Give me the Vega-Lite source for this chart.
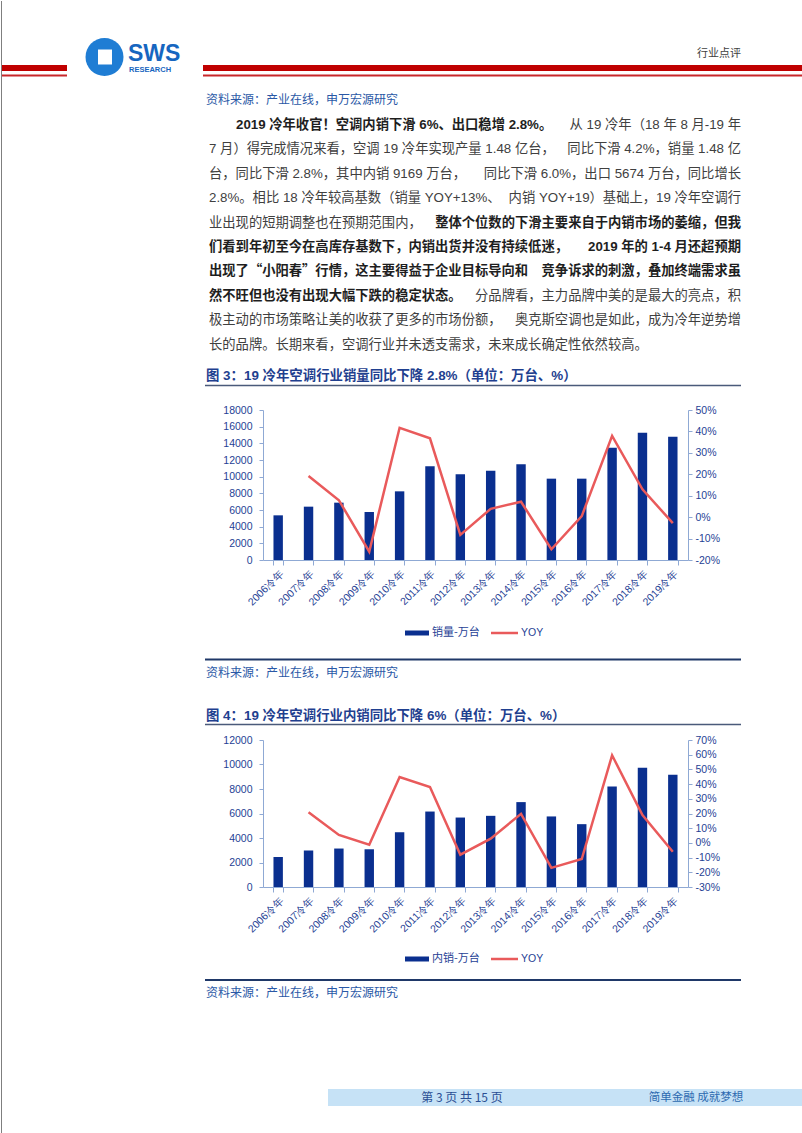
{
"$schema":"https://vega.github.io/schema/vega-lite/v6.json",
"padding":0,
"background":"#ffffff",
"spacing":0,
"bounds":"flush",
"config":{"view":{"stroke":null},"font":"Noto Sans CJK SC"},
"datasets":{
"sales":[
{"year":"2006冷年","volume":5360,"yoy":null},
{"year":"2007冷年","volume":6400,"yoy":0.192},
{"year":"2008冷年","volume":6880,"yoy":0.079},
{"year":"2009冷年","volume":5760,"yoy":-0.161},
{"year":"2010冷年","volume":8240,"yoy":0.417},
{"year":"2011冷年","volume":11240,"yoy":0.368},
{"year":"2012冷年","volume":10280,"yoy":-0.083},
{"year":"2013冷年","volume":10720,"yoy":0.039},
{"year":"2014冷年","volume":11480,"yoy":0.072},
{"year":"2015冷年","volume":9760,"yoy":-0.15},
{"year":"2016冷年","volume":9760,"yoy":0.005},
{"year":"2017冷年","volume":13480,"yoy":0.379},
{"year":"2018冷年","volume":15270,"yoy":0.13},
{"year":"2019冷年","volume":14800,"yoy":-0.028}
],
"domestic":[
{"year":"2006冷年","volume":2450,"yoy":null},
{"year":"2007冷年","volume":2980,"yoy":0.209},
{"year":"2008冷年","volume":3140,"yoy":0.054},
{"year":"2009冷年","volume":3080,"yoy":-0.012},
{"year":"2010冷年","volume":4470,"yoy":0.448},
{"year":"2011冷年","volume":6160,"yoy":0.38},
{"year":"2012冷年","volume":5670,"yoy":-0.08},
{"year":"2013冷年","volume":5810,"yoy":0.029},
{"year":"2014冷年","volume":6930,"yoy":0.198},
{"year":"2015冷年","volume":5760,"yoy":-0.17},
{"year":"2016冷年","volume":5130,"yoy":-0.11},
{"year":"2017冷年","volume":8210,"yoy":0.596},
{"year":"2018冷年","volume":9740,"yoy":0.19},
{"year":"2019冷年","volume":9169,"yoy":-0.06}
],
"para":[
{"line":0,"seg":1,"role":"source","emph":false,"text":"资料来源：产业在线，申万宏源研究"},
{"line":1,"seg":1,"role":"lead","emph":true,"text":"2019 冷年收官！空调内销下滑 6%、出口稳增 2.8%。"},
{"line":1,"seg":2,"role":"body","emph":false,"text":"从 19 冷年（18 年 8 月-19 年"},
{"line":2,"seg":1,"role":"body","emph":false,"text":"7 月）得完成情况来看，空调 19 冷年实现产量 1.48 亿台，"},
{"line":2,"seg":2,"role":"body","emph":false,"text":"同比下滑 4.2%，销量 1.48 亿"},
{"line":3,"seg":1,"role":"body","emph":false,"text":"台，同比下滑 2.8%，其中内销 9169 万台，"},
{"line":3,"seg":2,"role":"body","emph":false,"text":"同比下滑 6.0%，出口 5674 万台，同比增长"},
{"line":4,"seg":1,"role":"body","emph":false,"text":"2.8%。相比 18 冷年较高基数（销量 YOY+13%、"},
{"line":4,"seg":2,"role":"body","emph":false,"text":"内销 YOY+19）基础上，19 冷年空调行"},
{"line":5,"seg":1,"role":"body","emph":false,"text":"业出现的短期调整也在预期范围内，"},
{"line":5,"seg":2,"role":"body","emph":true,"text":"整体个位数的下滑主要来自于内销市场的萎缩，但我"},
{"line":6,"seg":1,"role":"body","emph":true,"text":"们看到年初至今在高库存基数下，内销出货并没有持续低迷，"},
{"line":6,"seg":2,"role":"body","emph":true,"text":"2019 年的 1-4 月还超预期"},
{"line":7,"seg":1,"role":"body","emph":true,"text":"出现了“小阳春”行情，这主要得益于企业目标导向和"},
{"line":7,"seg":2,"role":"body","emph":true,"text":"竞争诉求的刺激，叠加终端需求虽"},
{"line":8,"seg":1,"role":"body","emph":true,"text":"然不旺但也没有出现大幅下跌的稳定状态。"},
{"line":8,"seg":2,"role":"body","emph":false,"text":"分品牌看，主力品牌中美的是最大的亮点，积"},
{"line":9,"seg":1,"role":"body","emph":false,"text":"极主动的市场策略让美的收获了更多的市场份额，"},
{"line":9,"seg":2,"role":"body","emph":false,"text":"奥克斯空调也是如此，成为冷年逆势增"},
{"line":10,"seg":1,"role":"body","emph":false,"text":"长的品牌。长期来看，空调行业并未透支需求，未来成长确定性依然较高。"}
]
},
"vconcat":[
{
"width":802,"height":87,"data":{"values":[{}]},
"layer":[
{"mark":{"type":"rect","color":"#C00000"},"encoding":{"x":{"datum":0,"type":"quantitative","scale":{"domain":[0,802],"nice":false,"zero":false},"axis":null},"x2":{"datum":66},"y":{"datum":64,"type":"quantitative","scale":{"domain":[0,87],"reverse":true,"nice":false,"zero":false},"axis":null},"y2":{"datum":70}}},
{"mark":{"type":"rect","color":"#C00000"},"encoding":{"x":{"datum":202,"type":"quantitative","scale":{"domain":[0,802],"nice":false,"zero":false},"axis":null},"x2":{"datum":802},"y":{"datum":64,"type":"quantitative","scale":{"domain":[0,87],"reverse":true,"nice":false,"zero":false},"axis":null},"y2":{"datum":70}}},
{"mark":{"type":"rect","color":"#C8282B"},"encoding":{"x":{"datum":0,"type":"quantitative","scale":{"domain":[0,802],"nice":false,"zero":false},"axis":null},"x2":{"datum":66},"y":{"datum":73.5,"type":"quantitative","scale":{"domain":[0,87],"reverse":true,"nice":false,"zero":false},"axis":null},"y2":{"datum":75.5}}},
{"mark":{"type":"rect","color":"#C8282B"},"encoding":{"x":{"datum":202,"type":"quantitative","scale":{"domain":[0,802],"nice":false,"zero":false},"axis":null},"x2":{"datum":802},"y":{"datum":73.5,"type":"quantitative","scale":{"domain":[0,87],"reverse":true,"nice":false,"zero":false},"axis":null},"y2":{"datum":75.5}}},
{"mark":{"type":"point","shape":"circle","filled":true,"size":1444,"color":"#1F7DD4","opacity":1},"encoding":{"x":{"datum":103.5,"type":"quantitative","scale":{"domain":[0,802],"nice":false,"zero":false},"axis":null},"y":{"datum":56,"type":"quantitative","scale":{"domain":[0,87],"reverse":true,"nice":false,"zero":false},"axis":null}}},
{"mark":{"type":"rect","color":"#ffffff"},"encoding":{"x":{"datum":97,"type":"quantitative","scale":{"domain":[0,802],"nice":false,"zero":false},"axis":null},"x2":{"datum":111},"y":{"datum":48.5,"type":"quantitative","scale":{"domain":[0,87],"reverse":true,"nice":false,"zero":false},"axis":null},"y2":{"datum":63.5}}},
{"mark":{"type":"text","text":"SWS","align":"left","baseline":"middle","font":"Liberation Sans","fontWeight":"bold","fontSize":23,"color":"#1666C0"},"encoding":{"x":{"datum":127,"type":"quantitative","scale":{"domain":[0,802],"nice":false,"zero":false},"axis":null},"y":{"datum":52.5,"type":"quantitative","scale":{"domain":[0,87],"reverse":true,"nice":false,"zero":false},"axis":null}}},
{"mark":{"type":"text","text":"RESEARCH","align":"left","baseline":"middle","font":"Liberation Sans","fontWeight":"bold","fontSize":7.5,"color":"#1666C0"},"encoding":{"x":{"datum":128,"type":"quantitative","scale":{"domain":[0,802],"nice":false,"zero":false},"axis":null},"y":{"datum":69,"type":"quantitative","scale":{"domain":[0,87],"reverse":true,"nice":false,"zero":false},"axis":null}}},
{"mark":{"type":"text","text":"行业点评","align":"right","baseline":"middle","fontSize":11,"color":"#404040"},"encoding":{"x":{"datum":740,"type":"quantitative","scale":{"domain":[0,802],"nice":false,"zero":false},"axis":null},"y":{"datum":53,"type":"quantitative","scale":{"domain":[0,87],"reverse":true,"nice":false,"zero":false},"axis":null}}},
{"mark":{"type":"rule","color":"#7F7F7F","strokeWidth":1},"encoding":{"x":{"datum":0.5,"type":"quantitative","scale":{"domain":[0,802],"nice":false,"zero":false},"axis":null},"y":{"datum":0,"type":"quantitative","scale":{"domain":[0,87],"reverse":true,"nice":false,"zero":false},"axis":null},"y2":{"datum":87}}},
{"mark":{"type":"rule","color":"#7F7F7F","strokeWidth":1},"encoding":{"x":{"datum":801.5,"type":"quantitative","scale":{"domain":[0,802],"nice":false,"zero":false},"axis":null},"y":{"datum":0,"type":"quantitative","scale":{"domain":[0,87],"reverse":true,"nice":false,"zero":false},"axis":null},"y2":{"datum":87}}}
]
},
{
"width":802,"height":269,"data":{"name":"para"},
"layer":[
{"transform":[{"filter":"datum.role === 'source'"}],"mark":{"type":"text","align":"left","baseline":"middle","fontSize":12,"color":"#2A58A6"},"encoding":{"x":{"datum":205,"type":"quantitative","scale":{"domain":[0,802],"nice":false,"zero":false},"axis":null},"y":{"field":"line","type":"quantitative","scale":{"domain":[-0.5,10.5],"reverse":true,"nice":false,"zero":false},"axis":null},"text":{"field":"text"}}},
{"transform":[{"filter":"datum.role === 'lead'"}],"mark":{"type":"text","align":"left","baseline":"middle","font":"Liberation Sans, Noto Sans CJK SC","fontSize":13.3,"fontWeight":"bold","color":"#1E1E1E"},"encoding":{"x":{"datum":235,"type":"quantitative","scale":{"domain":[0,802],"nice":false,"zero":false},"axis":null},"y":{"field":"line","type":"quantitative","scale":{"domain":[-0.5,10.5],"reverse":true,"nice":false,"zero":false},"axis":null},"text":{"field":"text"}}},
{"transform":[{"filter":"datum.role === 'body' && datum.seg === 1 && !datum.emph"}],"mark":{"type":"text","align":"left","baseline":"middle","font":"Liberation Sans, Noto Sans CJK SC","fontSize":13.3,"color":"#404040"},"encoding":{"x":{"datum":208,"type":"quantitative","scale":{"domain":[0,802],"nice":false,"zero":false},"axis":null},"y":{"field":"line","type":"quantitative","scale":{"domain":[-0.5,10.5],"reverse":true,"nice":false,"zero":false},"axis":null},"text":{"field":"text"}}},
{"transform":[{"filter":"datum.role === 'body' && datum.seg === 1 && datum.emph"}],"mark":{"type":"text","align":"left","baseline":"middle","font":"Noto Sans CJK SC","fontSize":13.3,"fontWeight":"bold","color":"#1E1E1E"},"encoding":{"x":{"datum":208,"type":"quantitative","scale":{"domain":[0,802],"nice":false,"zero":false},"axis":null},"y":{"field":"line","type":"quantitative","scale":{"domain":[-0.5,10.5],"reverse":true,"nice":false,"zero":false},"axis":null},"text":{"field":"text"}}},
{"transform":[{"filter":"datum.role === 'body' && datum.seg === 2 && !datum.emph"}],"mark":{"type":"text","align":"right","baseline":"middle","font":"Liberation Sans, Noto Sans CJK SC","fontSize":13.3,"color":"#404040"},"encoding":{"x":{"datum":740,"type":"quantitative","scale":{"domain":[0,802],"nice":false,"zero":false},"axis":null},"y":{"field":"line","type":"quantitative","scale":{"domain":[-0.5,10.5],"reverse":true,"nice":false,"zero":false},"axis":null},"text":{"field":"text"}}},
{"transform":[{"filter":"datum.role === 'body' && datum.seg === 2 && datum.emph"}],"mark":{"type":"text","align":"right","baseline":"middle","font":"Liberation Sans, Noto Sans CJK SC","fontSize":13.3,"fontWeight":"bold","color":"#1E1E1E"},"encoding":{"x":{"datum":740,"type":"quantitative","scale":{"domain":[0,802],"nice":false,"zero":false},"axis":null},"y":{"field":"line","type":"quantitative","scale":{"domain":[-0.5,10.5],"reverse":true,"nice":false,"zero":false},"axis":null},"text":{"field":"text"}}},
{"data":{"values":[{}]},"mark":{"type":"rule","color":"#7F7F7F","strokeWidth":1},"encoding":{"x":{"datum":0.5,"type":"quantitative","scale":{"domain":[0,802],"nice":false,"zero":false},"axis":null},"y":{"datum":-0.5,"type":"quantitative","scale":{"domain":[-0.5,10.5],"reverse":true,"nice":false,"zero":false},"axis":null},"y2":{"datum":10.5}}},
{"data":{"values":[{}]},"mark":{"type":"rule","color":"#7F7F7F","strokeWidth":1},"encoding":{"x":{"datum":801.5,"type":"quantitative","scale":{"domain":[0,802],"nice":false,"zero":false},"axis":null},"y":{"datum":-0.5,"type":"quantitative","scale":{"domain":[-0.5,10.5],"reverse":true,"nice":false,"zero":false},"axis":null},"y2":{"datum":10.5}}}
]
},
{
"width":802,"height":53,"data":{"values":[{}]},
"layer":[
{"mark":{"type":"text","text":"图 3：19 冷年空调行业销量同比下降 2.8%（单位：万台、%）","align":"left","baseline":"middle","font":"Liberation Sans, Noto Sans CJK SC","fontSize":13.4,"fontWeight":"bold","color":"#1F3F8F"},"encoding":{"x":{"datum":205,"type":"quantitative","scale":{"domain":[0,802],"nice":false,"zero":false},"axis":null},"y":{"datum":375,"type":"quantitative","scale":{"domain":[356,409],"reverse":true,"nice":false,"zero":false},"axis":null}}},
{"mark":{"type":"rule","color":"#4A5A7A","strokeWidth":1.5},"encoding":{"x":{"datum":204,"type":"quantitative","scale":{"domain":[0,802],"nice":false,"zero":false},"axis":null},"x2":{"datum":740},"y":{"datum":384.5,"type":"quantitative","scale":{"domain":[356,409],"reverse":true,"nice":false,"zero":false},"axis":null}}},
{"mark":{"type":"rule","color":"#7F7F7F","strokeWidth":1},"encoding":{"x":{"datum":0.5,"type":"quantitative","scale":{"domain":[0,802],"nice":false,"zero":false},"axis":null},"y":{"datum":356,"type":"quantitative","scale":{"domain":[356,409],"reverse":true,"nice":false,"zero":false},"axis":null},"y2":{"datum":409}}},
{"mark":{"type":"rule","color":"#7F7F7F","strokeWidth":1},"encoding":{"x":{"datum":801.5,"type":"quantitative","scale":{"domain":[0,802],"nice":false,"zero":false},"axis":null},"y":{"datum":356,"type":"quantitative","scale":{"domain":[356,409],"reverse":true,"nice":false,"zero":false},"axis":null},"y2":{"datum":409}}}
]
},
{
"width":802,"height":150,
"layer":[
{"data":{"name":"sales"},
"encoding":{"x":{"field":"year","type":"nominal","sort":null,"scale":{"range":[262,687],"paddingInner":0.69,"paddingOuter":0.345},"axis":{"title":null,"labelAngle":-45,"labelColor":"#1F3F95","labelFont":"Liberation Sans","labelFontSize":10.5,"domainColor":"#8FA9D4","tickColor":"#8FA9D4","tickSize":5,"tickBand":"extent","labelPadding":3,"grid":false}}},
"layer":[
{"mark":{"type":"bar","color":"#0A2F8F"},"encoding":{"y":{"field":"volume","type":"quantitative","scale":{"domain":[0,18000],"nice":false},"axis":{"orient":"left","offset":-262,"title":null,"values":[0,2000,4000,6000,8000,10000,12000,14000,16000,18000],"format":"d","grid":false,"domainColor":"#8FA9D4","tickColor":"#8FA9D4","tickSize":4,"labelColor":"#1F3F95","labelFont":"Liberation Sans","labelFontSize":10.5,"labelPadding":7,"labelFlush":false,"labelOverlap":false,"labelBound":false}}}},
{"mark":{"type":"line","color":"#E95A5B","strokeWidth":2.5},"encoding":{"y":{"field":"yoy","type":"quantitative","scale":{"domain":[-0.2,0.5],"nice":false,"zero":false},"axis":{"orient":"right","offset":-115,"title":null,"values":[-0.2,-0.1,0,0.1,0.2,0.3,0.4,0.5],"labelExpr":"round(datum.value*100) + '%'","grid":false,"domainColor":"#8FA9D4","tickColor":"#8FA9D4","tickSize":4,"labelColor":"#1F3F95","labelFont":"Liberation Sans","labelFontSize":10.5,"labelPadding":3,"labelFlush":false,"labelOverlap":false,"labelBound":false}}}}
],
"resolve":{"scale":{"y":"independent"}}
},
{"data":{"values":[{}]},"mark":{"type":"rule","color":"#7F7F7F","strokeWidth":1},"encoding":{"x":{"datum":0.5,"type":"quantitative","scale":{"domain":[0,802],"nice":false,"zero":false},"axis":null},"y":{"datum":0,"type":"quantitative","scale":{"domain":[0,150],"nice":false,"zero":false},"axis":null},"y2":{"datum":150}}},
{"data":{"values":[{}]},"mark":{"type":"rule","color":"#7F7F7F","strokeWidth":1},"encoding":{"x":{"datum":801.5,"type":"quantitative","scale":{"domain":[0,802],"nice":false,"zero":false},"axis":null},"y":{"datum":0,"type":"quantitative","scale":{"domain":[0,150],"nice":false,"zero":false},"axis":null},"y2":{"datum":150}}}
],
"resolve":{"scale":{"x":"independent","y":"independent"}}
},
{
"width":802,"height":180,"data":{"values":[{}]},
"layer":[
{"mark":{"type":"rect","color":"#0A2F8F"},"encoding":{"x":{"datum":404,"type":"quantitative","scale":{"domain":[0,802],"nice":false,"zero":false},"axis":null},"x2":{"datum":428},"y":{"datum":629.5,"type":"quantitative","scale":{"domain":[559,739],"reverse":true,"nice":false,"zero":false},"axis":null},"y2":{"datum":634.5}}},
{"mark":{"type":"text","text":"销量-万台","align":"left","baseline":"middle","fontSize":11,"color":"#1F3F95"},"encoding":{"x":{"datum":431,"type":"quantitative","scale":{"domain":[0,802],"nice":false,"zero":false},"axis":null},"y":{"datum":632,"type":"quantitative","scale":{"domain":[559,739],"reverse":true,"nice":false,"zero":false},"axis":null}}},
{"mark":{"type":"rule","color":"#E95A5B","strokeWidth":2.5},"encoding":{"x":{"datum":490,"type":"quantitative","scale":{"domain":[0,802],"nice":false,"zero":false},"axis":null},"x2":{"datum":517},"y":{"datum":632,"type":"quantitative","scale":{"domain":[559,739],"reverse":true,"nice":false,"zero":false},"axis":null}}},
{"mark":{"type":"text","text":"YOY","align":"left","baseline":"middle","font":"Liberation Sans","fontSize":10.5,"color":"#1F3F95"},"encoding":{"x":{"datum":520,"type":"quantitative","scale":{"domain":[0,802],"nice":false,"zero":false},"axis":null},"y":{"datum":632,"type":"quantitative","scale":{"domain":[559,739],"reverse":true,"nice":false,"zero":false},"axis":null}}},
{"mark":{"type":"rule","color":"#1F3868","strokeWidth":2},"encoding":{"x":{"datum":204,"type":"quantitative","scale":{"domain":[0,802],"nice":false,"zero":false},"axis":null},"x2":{"datum":740},"y":{"datum":658.5,"type":"quantitative","scale":{"domain":[559,739],"reverse":true,"nice":false,"zero":false},"axis":null}}},
{"mark":{"type":"text","text":"资料来源：产业在线，申万宏源研究","align":"left","baseline":"middle","fontSize":12,"color":"#2A58A6"},"encoding":{"x":{"datum":205,"type":"quantitative","scale":{"domain":[0,802],"nice":false,"zero":false},"axis":null},"y":{"datum":671.5,"type":"quantitative","scale":{"domain":[559,739],"reverse":true,"nice":false,"zero":false},"axis":null}}},
{"mark":{"type":"text","text":"图 4：19 冷年空调行业内销同比下降 6%（单位：万台、%）","align":"left","baseline":"middle","font":"Liberation Sans, Noto Sans CJK SC","fontSize":13.4,"fontWeight":"bold","color":"#1F3F8F"},"encoding":{"x":{"datum":205,"type":"quantitative","scale":{"domain":[0,802],"nice":false,"zero":false},"axis":null},"y":{"datum":715,"type":"quantitative","scale":{"domain":[559,739],"reverse":true,"nice":false,"zero":false},"axis":null}}},
{"mark":{"type":"rule","color":"#4A5A7A","strokeWidth":1.5},"encoding":{"x":{"datum":204,"type":"quantitative","scale":{"domain":[0,802],"nice":false,"zero":false},"axis":null},"x2":{"datum":740},"y":{"datum":723.5,"type":"quantitative","scale":{"domain":[559,739],"reverse":true,"nice":false,"zero":false},"axis":null}}},
{"mark":{"type":"rule","color":"#7F7F7F","strokeWidth":1},"encoding":{"x":{"datum":0.5,"type":"quantitative","scale":{"domain":[0,802],"nice":false,"zero":false},"axis":null},"y":{"datum":559,"type":"quantitative","scale":{"domain":[559,739],"reverse":true,"nice":false,"zero":false},"axis":null},"y2":{"datum":739}}},
{"mark":{"type":"rule","color":"#7F7F7F","strokeWidth":1},"encoding":{"x":{"datum":801.5,"type":"quantitative","scale":{"domain":[0,802],"nice":false,"zero":false},"axis":null},"y":{"datum":559,"type":"quantitative","scale":{"domain":[559,739],"reverse":true,"nice":false,"zero":false},"axis":null},"y2":{"datum":739}}}
]
},
{
"width":802,"height":147,
"layer":[
{"data":{"name":"domestic"},
"encoding":{"x":{"field":"year","type":"nominal","sort":null,"scale":{"range":[262,687],"paddingInner":0.69,"paddingOuter":0.345},"axis":{"title":null,"labelAngle":-45,"labelColor":"#1F3F95","labelFont":"Liberation Sans","labelFontSize":10.5,"domainColor":"#8FA9D4","tickColor":"#8FA9D4","tickSize":5,"tickBand":"extent","labelPadding":3,"grid":false}}},
"layer":[
{"mark":{"type":"bar","color":"#0A2F8F"},"encoding":{"y":{"field":"volume","type":"quantitative","scale":{"domain":[0,12000],"nice":false},"axis":{"orient":"left","offset":-262,"title":null,"values":[0,2000,4000,6000,8000,10000,12000],"format":"d","grid":false,"domainColor":"#8FA9D4","tickColor":"#8FA9D4","tickSize":4,"labelColor":"#1F3F95","labelFont":"Liberation Sans","labelFontSize":10.5,"labelPadding":7,"labelFlush":false,"labelOverlap":false,"labelBound":false}}}},
{"mark":{"type":"line","color":"#E95A5B","strokeWidth":2.5},"encoding":{"y":{"field":"yoy","type":"quantitative","scale":{"domain":[-0.3,0.7],"nice":false,"zero":false},"axis":{"orient":"right","offset":-115,"title":null,"values":[-0.3,-0.2,-0.1,0,0.1,0.2,0.3,0.4,0.5,0.6,0.7],"labelExpr":"round(datum.value*100) + '%'","grid":false,"domainColor":"#8FA9D4","tickColor":"#8FA9D4","tickSize":4,"labelColor":"#1F3F95","labelFont":"Liberation Sans","labelFontSize":10.5,"labelPadding":3,"labelFlush":false,"labelOverlap":false,"labelBound":false}}}}
],
"resolve":{"scale":{"y":"independent"}}
},
{"data":{"values":[{}]},"mark":{"type":"rule","color":"#7F7F7F","strokeWidth":1},"encoding":{"x":{"datum":0.5,"type":"quantitative","scale":{"domain":[0,802],"nice":false,"zero":false},"axis":null},"y":{"datum":0,"type":"quantitative","scale":{"domain":[0,147],"nice":false,"zero":false},"axis":null},"y2":{"datum":147}}},
{"data":{"values":[{}]},"mark":{"type":"rule","color":"#7F7F7F","strokeWidth":1},"encoding":{"x":{"datum":801.5,"type":"quantitative","scale":{"domain":[0,802],"nice":false,"zero":false},"axis":null},"y":{"datum":0,"type":"quantitative","scale":{"domain":[0,147],"nice":false,"zero":false},"axis":null},"y2":{"datum":147}}}
],
"resolve":{"scale":{"x":"independent","y":"independent"}}
},
{
"width":802,"height":247,"data":{"values":[{}]},
"layer":[
{"mark":{"type":"rect","color":"#0A2F8F"},"encoding":{"x":{"datum":404,"type":"quantitative","scale":{"domain":[0,802],"nice":false,"zero":false},"axis":null},"x2":{"datum":428},"y":{"datum":955.5,"type":"quantitative","scale":{"domain":[886,1133],"reverse":true,"nice":false,"zero":false},"axis":null},"y2":{"datum":960.5}}},
{"mark":{"type":"text","text":"内销-万台","align":"left","baseline":"middle","fontSize":11,"color":"#1F3F95"},"encoding":{"x":{"datum":431,"type":"quantitative","scale":{"domain":[0,802],"nice":false,"zero":false},"axis":null},"y":{"datum":958,"type":"quantitative","scale":{"domain":[886,1133],"reverse":true,"nice":false,"zero":false},"axis":null}}},
{"mark":{"type":"rule","color":"#E95A5B","strokeWidth":2.5},"encoding":{"x":{"datum":490,"type":"quantitative","scale":{"domain":[0,802],"nice":false,"zero":false},"axis":null},"x2":{"datum":517},"y":{"datum":958,"type":"quantitative","scale":{"domain":[886,1133],"reverse":true,"nice":false,"zero":false},"axis":null}}},
{"mark":{"type":"text","text":"YOY","align":"left","baseline":"middle","font":"Liberation Sans","fontSize":10.5,"color":"#1F3F95"},"encoding":{"x":{"datum":520,"type":"quantitative","scale":{"domain":[0,802],"nice":false,"zero":false},"axis":null},"y":{"datum":958,"type":"quantitative","scale":{"domain":[886,1133],"reverse":true,"nice":false,"zero":false},"axis":null}}},
{"mark":{"type":"rule","color":"#1F3868","strokeWidth":2},"encoding":{"x":{"datum":204,"type":"quantitative","scale":{"domain":[0,802],"nice":false,"zero":false},"axis":null},"x2":{"datum":740},"y":{"datum":979,"type":"quantitative","scale":{"domain":[886,1133],"reverse":true,"nice":false,"zero":false},"axis":null}}},
{"mark":{"type":"text","text":"资料来源：产业在线，申万宏源研究","align":"left","baseline":"middle","fontSize":12,"color":"#2A58A6"},"encoding":{"x":{"datum":205,"type":"quantitative","scale":{"domain":[0,802],"nice":false,"zero":false},"axis":null},"y":{"datum":991.5,"type":"quantitative","scale":{"domain":[886,1133],"reverse":true,"nice":false,"zero":false},"axis":null}}},
{"mark":{"type":"rect","color":"#C6E2F6"},"encoding":{"x":{"datum":327,"type":"quantitative","scale":{"domain":[0,802],"nice":false,"zero":false},"axis":null},"x2":{"datum":802},"y":{"datum":1088,"type":"quantitative","scale":{"domain":[886,1133],"reverse":true,"nice":false,"zero":false},"axis":null},"y2":{"datum":1105}}},
{"mark":{"type":"text","text":"第 3 页 共 15 页","align":"center","baseline":"middle","fontSize":12,"color":"#2B4F94"},"encoding":{"x":{"datum":461,"type":"quantitative","scale":{"domain":[0,802],"nice":false,"zero":false},"axis":null},"y":{"datum":1096.5,"type":"quantitative","scale":{"domain":[886,1133],"reverse":true,"nice":false,"zero":false},"axis":null}}},
{"mark":{"type":"text","text":"简单金融 成就梦想","align":"center","baseline":"middle","fontSize":11.5,"color":"#2D6AB0"},"encoding":{"x":{"datum":695,"type":"quantitative","scale":{"domain":[0,802],"nice":false,"zero":false},"axis":null},"y":{"datum":1096.5,"type":"quantitative","scale":{"domain":[886,1133],"reverse":true,"nice":false,"zero":false},"axis":null}}},
{"mark":{"type":"rule","color":"#7F7F7F","strokeWidth":1},"encoding":{"x":{"datum":0.5,"type":"quantitative","scale":{"domain":[0,802],"nice":false,"zero":false},"axis":null},"y":{"datum":886,"type":"quantitative","scale":{"domain":[886,1133],"reverse":true,"nice":false,"zero":false},"axis":null},"y2":{"datum":1133}}},
{"mark":{"type":"rule","color":"#7F7F7F","strokeWidth":1},"encoding":{"x":{"datum":801.5,"type":"quantitative","scale":{"domain":[0,802],"nice":false,"zero":false},"axis":null},"y":{"datum":886,"type":"quantitative","scale":{"domain":[886,1133],"reverse":true,"nice":false,"zero":false},"axis":null},"y2":{"datum":1133}}},
{"mark":{"type":"rule","color":"#7F7F7F","strokeWidth":1},"encoding":{"x":{"datum":0,"type":"quantitative","scale":{"domain":[0,802],"nice":false,"zero":false},"axis":null},"x2":{"datum":802},"y":{"datum":1132.5,"type":"quantitative","scale":{"domain":[886,1133],"reverse":true,"nice":false,"zero":false},"axis":null}}}
]
}
]
}
